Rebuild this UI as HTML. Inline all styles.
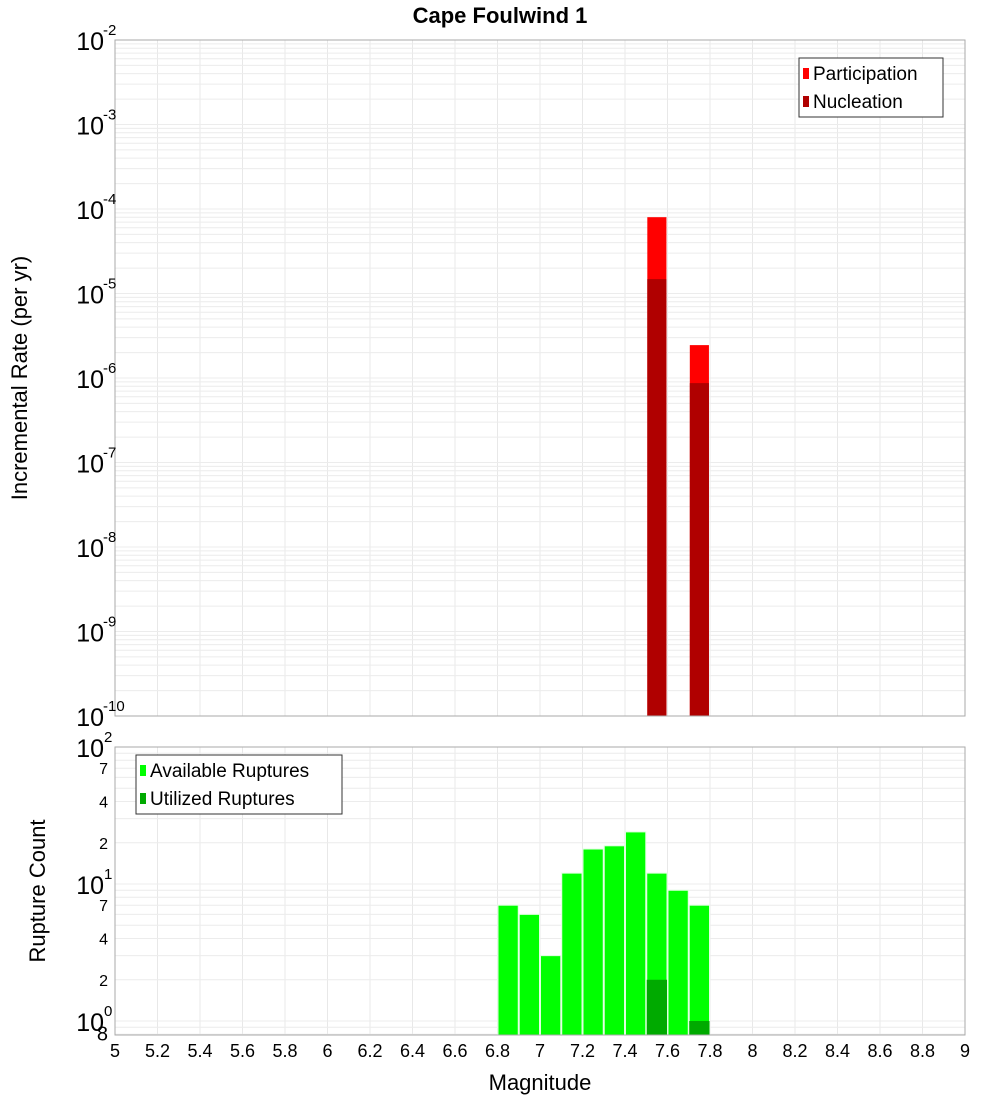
<!DOCTYPE html>
<html><head><meta charset="utf-8"><style>
body{margin:0;background:#fff;}
svg text{font-family:"Liberation Sans","DejaVu Sans",sans-serif;}
</style></head><body>
<svg id="chart" width="1000" height="1100" xmlns="http://www.w3.org/2000/svg">
<rect x="0" y="0" width="1000" height="1100" fill="#fff"/>
<text x="500" y="23" text-anchor="middle" font-size="22" font-weight="bold" font-family="DejaVu Sans, sans-serif">Cape Foulwind 1</text>
<g id="top-grid"></g><g id="bot-grid"></g>
<g id="top-bars"></g><g id="bot-bars"></g>
<rect x="115" y="40" width="850" height="676" fill="none" stroke="#aaa"/>
<rect x="115" y="747" width="850" height="288" fill="none" stroke="#aaa"/>
<g id="top-ticks"></g><g id="bot-ticks"></g><g id="x-ticks"></g>
<text transform="translate(27,378) rotate(-90)" text-anchor="middle" font-size="22" font-family="DejaVu Sans, sans-serif">Incremental Rate (per yr)</text>
<text transform="translate(45,891) rotate(-90)" text-anchor="middle" font-size="22" font-family="DejaVu Sans, sans-serif">Rupture Count</text>
<text x="540" y="1090" text-anchor="middle" font-size="22" font-family="DejaVu Sans, sans-serif">Magnitude</text>
<g>
<rect x="799" y="58" width="144" height="59" fill="#fff" stroke="#333"/>
<rect x="803" y="68" width="6" height="11" fill="#ff0000"/>
<text x="813" y="80" font-size="19" font-family="DejaVu Sans, sans-serif">Participation</text>
<rect x="803" y="96" width="6" height="11" fill="#b00000"/>
<text x="813" y="108" font-size="19" font-family="DejaVu Sans, sans-serif">Nucleation</text>
</g>
<g>
<rect x="136" y="755" width="206" height="59" fill="#fff" stroke="#333"/>
<rect x="140" y="765" width="6" height="11" fill="#00ff00"/>
<text x="150" y="777" font-size="19" font-family="DejaVu Sans, sans-serif">Available Ruptures</text>
<rect x="140" y="793" width="6" height="11" fill="#00aa00"/>
<text x="150" y="805" font-size="19" font-family="DejaVu Sans, sans-serif">Utilized Ruptures</text>
</g>
</svg>
<script>
const NS="http://www.w3.org/2000/svg";
const rateMags=[7.55,7.75];
const participation=[8.0e-5,2.45e-6];
const nucleation=[1.48e-5,8.7e-7];
const countMags=[6.85,6.95,7.05,7.15,7.25,7.35,7.45,7.55,7.65,7.75];
const available=[7,6,3,12,18,19,24,12,9,7];
const utilized=[0,0,0,0,0,0,0,2,0,1];
const xTicks=["5","5.2","5.4","5.6","5.8","6","6.2","6.4","6.6","6.8","7","7.2","7.4","7.6","7.8","8","8.2","8.4","8.6","8.8","9"];
const topExps=[-2,-3,-4,-5,-6,-7,-8,-9,-10];
const botMinorLabels=[2,4,7];

const xs=m=>115+(m-5)*212.5;
const yTop=v=>40+(-2-Math.log10(v))*84.5;
const yBot=v=>747+(2-Math.log10(v))*137;
function mk(tag,attrs,parent,text){const e=document.createElementNS(NS,tag);for(const k in attrs)e.setAttribute(k,attrs[k]);if(text!==undefined)e.textContent=text;document.getElementById(parent).appendChild(e);return e;}

// grids
for(let i=0;i<xTicks.length;i++){const x=xs(+xTicks[i]);
 mk('line',{x1:x,x2:x,y1:40,y2:716,stroke:'#e8e8e8'},'top-grid');
 mk('line',{x1:x,x2:x,y1:747,y2:1035,stroke:'#e8e8e8'},'bot-grid');
 const t=mk('text',{x:x,y:1057,'text-anchor':'middle','font-size':18,'font-family':'DejaVu Sans, sans-serif'},'x-ticks',xTicks[i]);
 
 
}
for(let e=-10;e<-2;e++){for(let k=1;k<10;k++){const y=yTop(k*Math.pow(10,e));mk('line',{x1:115,x2:965,y1:y,y2:y,stroke:'#ececec'},'top-grid');}}
for(let e=-1;e<2;e++){for(let k=1;k<10;k++){const v=k*Math.pow(10,e);const y=yBot(v);if(y>1035||y<747)continue;mk('line',{x1:115,x2:965,y1:y,y2:y,stroke:'#ececec'},'bot-grid');}}

// top ticks
for(const ex of topExps){const y=yTop(Math.pow(10,ex));
 const g=mk('text',{x:104,y:y+10,'text-anchor':'end','font-size':25,'font-family':'DejaVu Sans, sans-serif'},'top-ticks','10');
 
 
 mk('text',{x:103,y:y-5,'font-size':15,'font-family':'DejaVu Sans, sans-serif'},'top-ticks',String(ex));
}
// bottom ticks
for(const ex of [0,1,2]){const y=yBot(Math.pow(10,ex));
 const g=mk('text',{x:104,y:y+10,'text-anchor':'end','font-size':25,'font-family':'DejaVu Sans, sans-serif'},'bot-ticks','10');
 
 
 mk('text',{x:104,y:y-5,'font-size':15,'font-family':'DejaVu Sans, sans-serif'},'bot-ticks',String(ex));
}
for(const ex of [0,1]){for(const k of botMinorLabels){const y=yBot(k*Math.pow(10,ex));
 mk('text',{x:108,y:y+6,'text-anchor':'end','font-size':16,'font-family':'DejaVu Sans, sans-serif'},'bot-ticks',String(k));}}
mk('text',{x:108,y:yBot(0.8)+6,'text-anchor':'end','font-size':20,'font-family':'DejaVu Sans, sans-serif'},'bot-ticks','8');

// top bars
for(let i=0;i<rateMags.length;i++){const x0=xs(rateMags[i]-0.045),w=xs(rateMags[i]+0.045)-x0;
 const p=mk('rect',{x:x0,y:yTop(participation[i]),width:w,height:716-yTop(participation[i]),fill:'#ff0000'},'top-bars');
 
 
 const n=mk('rect',{x:x0,y:yTop(nucleation[i]),width:w,height:716-yTop(nucleation[i]),fill:'#b00000'},'top-bars');
 
 
}
// bottom bars
for(let i=0;i<countMags.length;i++){const x0=xs(countMags[i]-0.05)+0.5,w=xs(countMags[i]+0.05)-x0-0.5;
 const a=mk('rect',{x:x0,y:yBot(available[i]),width:w,height:1035-yBot(available[i]),fill:'#00ff00',stroke:'#dfffdf','stroke-width':1},'bot-bars');
 
 
 if(utilized[i]>0){const u=mk('rect',{x:x0,y:yBot(utilized[i]),width:w,height:1035-yBot(utilized[i]),fill:'#00aa00'},'bot-bars');
 
 }
}
</script>
</body></html>
